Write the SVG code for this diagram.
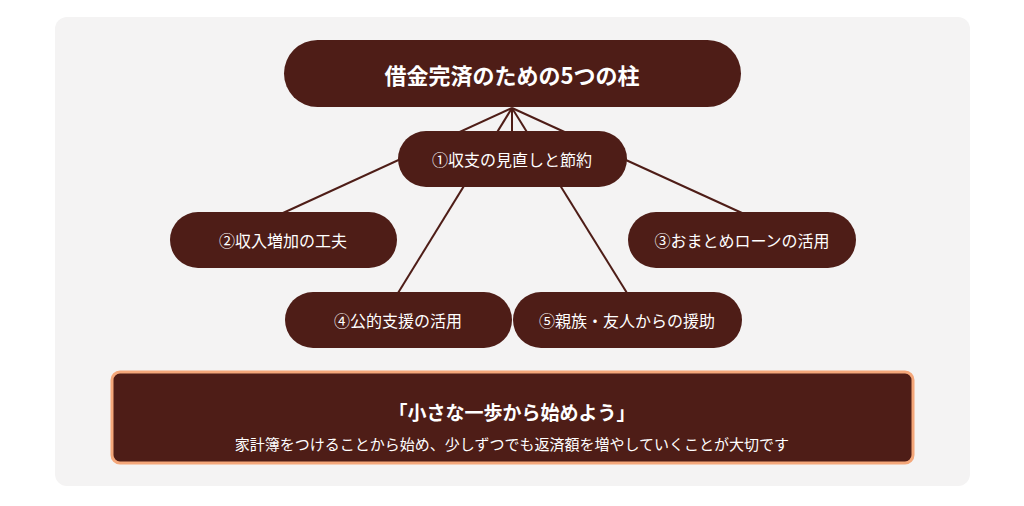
<svg xmlns="http://www.w3.org/2000/svg" width="1024" height="506" viewBox="0 0 1024 506">
<style>
.n{fill:#4e1d17}
.t{fill:#fff;font-family:"Noto Sans CJK JP","Noto Sans",sans-serif;text-anchor:middle;dominant-baseline:central}
.c{stroke:#4e1d17;stroke-width:2;fill:none}
</style>
<rect x="0" y="0" width="1024" height="506" fill="#fff"/>
<rect x="55" y="17" width="915" height="469" rx="12" fill="#f4f3f3"/>
<g id="connectors">
<line class="c" x1="512" y1="108" x2="512" y2="131"/>
<line class="c" x1="512" y1="108" x2="283" y2="213"/>
<line class="c" x1="512" y1="108" x2="742" y2="213"/>
<line class="c" x1="512" y1="108" x2="398" y2="293"/>
<line class="c" x1="512" y1="108" x2="627" y2="293"/>
</g>
<g id="root"><rect class="n" x="284" y="40" width="457" height="67" rx="33.5"/><text class="t" x="512" y="74" font-size="22" font-weight="bold">借金完済のための5つの柱</text></g>
<g id="n1"><rect class="n" x="398" y="131" width="229" height="56" rx="28"/><text class="t" x="512" y="159" font-size="16">①収支の見直しと節約</text></g>
<g id="n2"><rect class="n" x="170" y="212" width="227" height="56" rx="28"/><text class="t" x="283" y="240" font-size="16">②収入増加の工夫</text></g>
<g id="n3"><rect class="n" x="628" y="212" width="228" height="56" rx="28"/><text class="t" x="742" y="240" font-size="16">③おまとめローンの活用</text></g>
<g id="n4"><rect class="n" x="285" y="292" width="227" height="56" rx="28"/><text class="t" x="398" y="320" font-size="16">④公的支援の活用</text></g>
<g id="n5"><rect class="n" x="513" y="292" width="229" height="56" rx="28"/><text class="t" x="627" y="320" font-size="16">⑤親族・友人からの援助</text></g>
<g id="note"><rect x="112" y="372" width="801" height="91" rx="8" fill="#4e1d17" stroke="#f4a77a" stroke-width="3"/>
<text class="t" x="512" y="411" font-size="19" font-weight="bold">「小さな一歩から始めよう」</text>
<text class="t" x="512" y="443" font-size="15">家計簿をつけることから始め、少しずつでも返済額を増やしていくことが大切です</text></g>
</svg>
